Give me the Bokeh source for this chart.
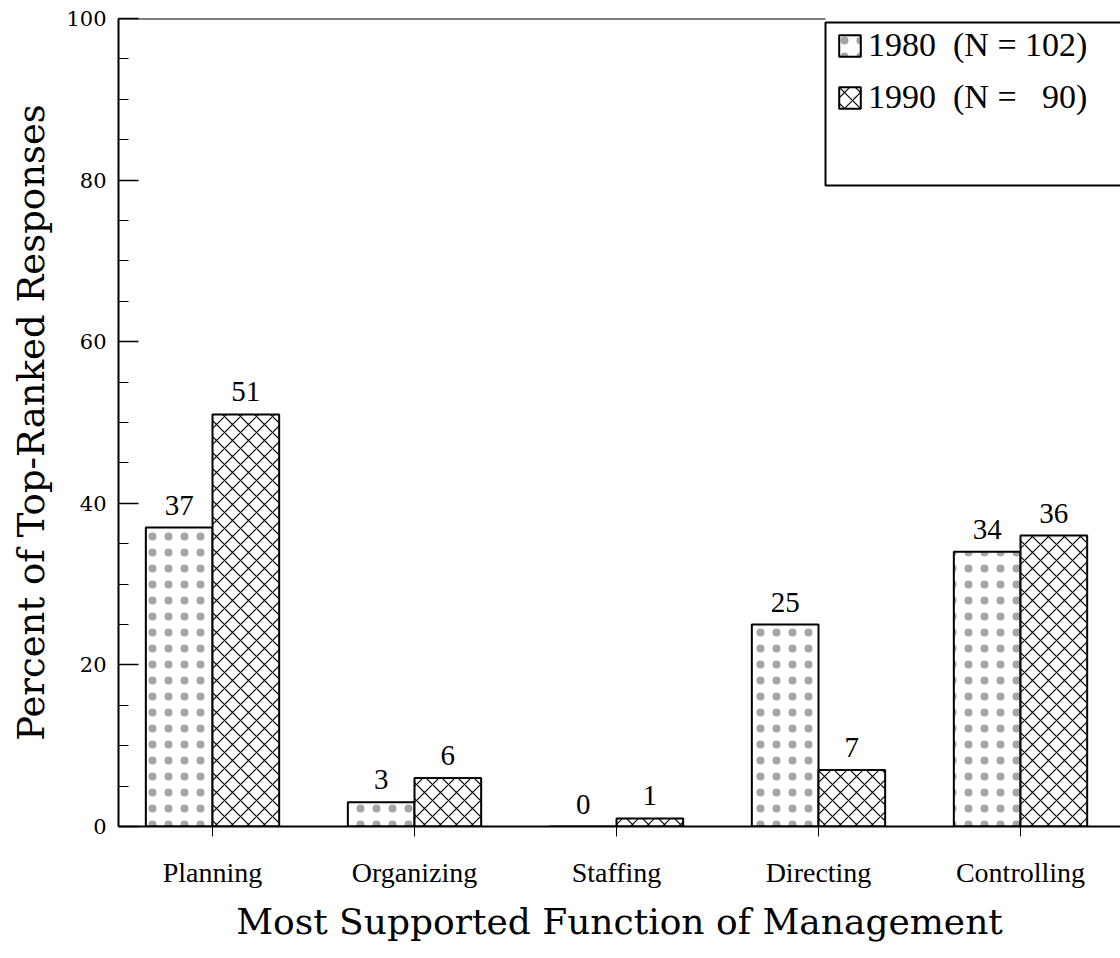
import numpy as np
from bokeh.plotting import figure
from bokeh.models import (Range1d, FixedTicker, SingleIntervalTicker, Legend, LegendItem,
                          ColumnDataSource, BoxAnnotation)
from bokeh.embed import file_html
from bokeh.resources import INLINE
from bokeh.core.properties import value

# ---- data ----
categories = ["Planning", "Organizing", "Staffing", "Directing", "Controlling"]
pct_1980 = [37, 3, 0, 25, 34]
pct_1990 = [51, 6, 1, 7, 36]
label_1980 = "1980  (N = 102)"
label_1990 = "1990  (N =   90)"
y_ticks_interval = 20

# ---- layout ----
W, H = 1120, 958
FL, FT, FH = 118, 18, 808          # frame left / top / height in px
PX_PER_CAT = 202
BAR_W = 0.33
X_START = 0.5 - (212 - FL) / PX_PER_CAT
X_END = X_START + (W - FL) / PX_PER_CAT

centers = np.arange(len(categories)) + 0.5
x80 = centers - BAR_W / 2
x90 = centers + BAR_W / 2

p = figure(width=W, height=H, output_backend="svg", toolbar_location=None,
           x_range=Range1d(X_START, X_END), y_range=Range1d(0, 100),
           min_border_left=FL, min_border_right=0, min_border_top=FT,
           min_border_bottom=H - FT - FH)
p.outline_line_color = None
p.xgrid.visible = False
p.ygrid.visible = False
p.background_fill_color = "white"
p.border_fill_color = "white"

src80 = ColumnDataSource(dict(x=x80, top=pct_1980, lab=[str(v) for v in pct_1980]))
src90 = ColumnDataSource(dict(x=x90, top=pct_1990, lab=[str(v) for v in pct_1990]))

r80 = p.vbar(x="x", top="top", bottom=0, width=BAR_W, source=src80,
             fill_color="white", line_color="black", line_width=2,
             hatch_pattern="dot", hatch_scale=16, hatch_color="black",
             hatch_weight=0.2, hatch_alpha=0.35)
r90 = p.vbar(x="x", top="top", bottom=0, width=BAR_W, source=src90,
             fill_color="white", line_color="black", line_width=2,
             hatch_pattern="diagonal_cross", hatch_scale=16, hatch_color="black",
             hatch_weight=1.2)

for s in (src80, src90):
    p.text(x="x", y="top", text="lab", source=s, text_align="center", text_baseline="bottom",
           y_offset=-13, text_font=value("Liberation Serif"), text_font_size="29px",
           text_color="black")

# top frame line up to the legend box
LEG_LEFT_X = X_START + (825 - FL) / PX_PER_CAT
p.segment(x0=[X_START], y0=[100], x1=[LEG_LEFT_X], y1=[100],
          line_color="black", line_width=2)

# legend box
p.add_layout(BoxAnnotation(left=LEG_LEFT_X, right=X_END + 1,
                           top=100 - (22 - FT) * 100 / FH, bottom=100 - (185 - FT) * 100 / FH,
                           fill_color="white", fill_alpha=1,
                           line_color="black", line_alpha=1, line_width=2,
                           level="overlay"))

# ---- axes ----
xa = p.xaxis[0]
xa.ticker = FixedTicker(ticks=list(centers))
xa.major_label_overrides = {float(c): n for c, n in zip(centers, categories)}
xa.major_tick_in = 0
xa.major_tick_out = 10
xa.minor_tick_line_color = None
xa.axis_line_width = 2
xa.major_label_text_font = "Liberation Serif"
xa.major_label_text_font_size = "28px"
xa.major_label_text_color = "black"
xa.major_label_standoff = 20
xa.axis_label = "Most Supported Function of Management"
xa.axis_label_text_font = "DejaVu Serif"
xa.axis_label_text_font_size = "36px"
xa.axis_label_text_font_style = "normal"
xa.axis_label_text_color = "black"
xa.axis_label_standoff = 10

ya = p.yaxis[0]
ya.ticker = SingleIntervalTicker(interval=y_ticks_interval, num_minor_ticks=4)
ya.major_tick_in = 20
ya.major_tick_out = 0
ya.minor_tick_in = 10
ya.minor_tick_out = 0
ya.axis_line_width = 2
ya.major_tick_line_width = 1.5
ya.major_label_text_font = "DejaVu Serif"
ya.major_label_text_font_size = "21px"
ya.major_label_text_color = "black"
ya.major_label_standoff = 12
ya.axis_label = "Percent of Top-Ranked Responses"
ya.axis_label_text_font = "DejaVu Serif"
ya.axis_label_text_font_size = "37px"
ya.axis_label_text_font_style = "normal"
ya.axis_label_text_color = "black"
ya.axis_label_standoff = 10

# ---- legend ----
legend = Legend(items=[LegendItem(label=label_1980, renderers=[r80]),
                       LegendItem(label=label_1990, renderers=[r90])],
                location=(836 - FL, FT + FH - 116), orientation="vertical",
                glyph_width=27, glyph_height=27, label_height=38,
                spacing=14, padding=0, margin=0, label_standoff=5,
                label_text_font="Liberation Serif", label_text_font_size="34px",
                label_text_color="black",
                border_line_color=None, background_fill_alpha=0)
p.add_layout(legend, "center")

open("out.html", "w").write(file_html(p, INLINE))
